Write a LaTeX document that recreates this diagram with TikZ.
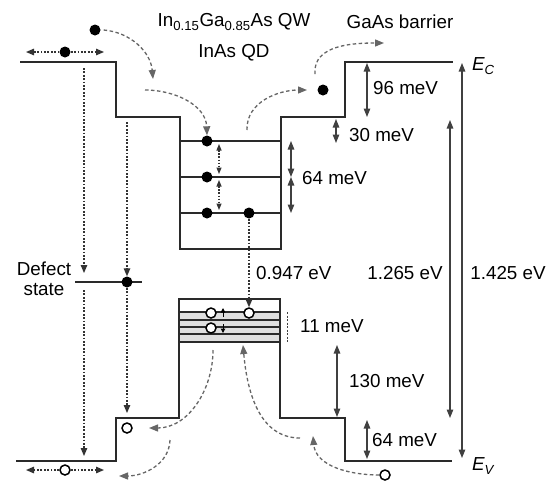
\documentclass[tikz,border=0pt]{standalone}
\usepackage{fontspec}
\setmainfont{Liberation Sans}
\usetikzlibrary{arrows.meta}
\definecolor{bandc}{HTML}{2A2A2A}
\definecolor{measc}{HTML}{404040}
\definecolor{curvc}{HTML}{666666}
\definecolor{dotc}{HTML}{333333}
\begin{document}
\begin{tikzpicture}[x=1pt,y=-1pt,
  band/.style={draw=bandc,line width=2pt},
  lvl/.style={draw=bandc,line width=1.6pt},
  meas/.style={draw=measc,line width=1.2pt,{Triangle[length=8.5pt,width=6.5pt]}-{Triangle[length=8.5pt,width=6.5pt]}},
  dcurve/.style={draw=curvc,line width=1.3pt,dash pattern=on 3.5pt off 2.5pt,-{Triangle[length=9pt,width=7pt]}},
  dline/.style={draw=dotc,line width=1.3pt,dash pattern=on 1.8pt off 1.6pt,-{Triangle[length=8pt,width=6.5pt]}},
  dline2/.style={draw=dotc,line width=1.1pt,dash pattern=on 1.6pt off 1.5pt,{Triangle[length=6.5pt,width=5pt]}-{Triangle[length=6.5pt,width=5pt]}},
  el/.style={circle,fill=black,inner sep=0pt,minimum size=11pt},
  ho/.style={circle,draw=black,line width=1.5pt,fill=white,inner sep=0pt,minimum size=10pt},
  lab/.style={inner sep=0pt,font=\fontsize{18.8}{22}\selectfont}]
\useasboundingbox[fill=white] (0,0) rectangle (553,482);

% ---- valence band QD gray region
\fill[gray!25] (179,312) rectangle (280,342);
\foreach \yy in {312,320,327,334,342} \draw[lvl] (179,\yy) -- (280,\yy);

% ---- conduction band
\draw[band] (20,62) -- (116,62) -- (116,117) -- (180,117) -- (180,249) -- (281,249) -- (281,117) -- (345,117) -- (345,62) -- (453,62);
\foreach \yy in {141,177,213} \draw[lvl] (180,\yy) -- (281,\yy);

% ---- valence band
\draw[band] (16,461) -- (116,461) -- (116,418) -- (179,418) -- (179,299) -- (280,299) -- (280,418) -- (345,418) -- (345,461) -- (452,461);

% ---- defect state
\draw[lvl] (75,282) -- (142,282);

% ---- electrons
\node[el] (etl) at (65,52) {};
\node[el] (etop) at (95,30) {};
\node[el] (er) at (323,90) {};
\node[el] (e11) at (207,141) {};
\node[el] (e21) at (207,177) {};
\node[el] (e31) at (207,213) {};
\node[el] (e32) at (249,213) {};
\node[el] (ed) at (127,282) {};

% ---- holes
\node[ho] (h11) at (211,313) {};
\node[ho] (h12) at (249,313) {};
\node[ho] (h21) at (211,328) {};
\node[ho] (hq) at (127,428) {};
\node[ho] (hb) at (65,470) {};
\node[ho] (hr) at (385,475) {};

% ---- coordinates
\coordinate (tlL) at (26,52);  \coordinate (tlR) at (104,52);
\coordinate (bL) at (26,470);  \coordinate (bR) at (104,470);
\coordinate (c1) at (153,79);
\coordinate (c2s) at (145,90);
\coordinate (c3s) at (247,130); \coordinate (c3e) at (307,90);
\coordinate (c4e) at (384,43);
\coordinate (v1s) at (213,350); \coordinate (v1e) at (149,428);
\coordinate (v2s) at (170,440); \coordinate (v2e) at (119,476);
\coordinate (v3e) at (313,436);
\coordinate (v4s) at (300,438); \coordinate (v4e) at (243,345);

% ---- dotted lines
\draw[dline] (etl) -- (tlL);
\draw[dline] (etl) -- (tlR);
\draw[dline] (hb) -- (bL);
\draw[dline] (hb) -- (bR);
\draw[dline] (84,68) -- (84,273);
\draw[dline] (84,290) -- (84,456);
\draw[dline] (127,122) -- (ed);
\draw[dline] (ed) -- (127,413);
\draw[dline] (e32) -- (h12);
\draw[dline2] (219,144) -- (219,174);
\draw[dline2] (219,180) -- (219,210);

% ---- small spin arrows
\draw[draw=black,line width=1pt,-{Triangle[length=4.5pt,width=4.5pt]}] (223,317) -- (223,308);
\draw[draw=black,line width=1pt,-{Triangle[length=4.5pt,width=4.5pt]}] (223,324) -- (223,333);

% ---- dashed curves
\draw[dcurve] (etop.east) ++(3,0) to[out=-5,in=95] (c1);
\draw[dcurve] (c2s) to[out=0,in=92] (e11.north);
\draw[dcurve] (c3s) to[out=92,in=180] (c3e);
\draw[dcurve] ([shift={(-8,-16)}]er.center) to[out=95,in=180] (c4e);
\draw[dcurve] (v1s) to[out=-90,in=0] (v1e);
\draw[dcurve] (v2s) to[out=-92,in=0] (v2e);
\draw[dcurve] (hr.west) to[out=180,in=-85] (v3e);
\draw[dcurve] (v4s) to[out=180,in=-85] (v4e);

% ---- measurement arrows
\draw[meas] (367,63) -- (367,117);
\draw[meas] (336,119) -- (336,143);
\draw[meas] (291,141) -- (291,177);
\draw[meas] (291,177) -- (291,213);
\draw[meas] (337,345) -- (337,417);
\draw[meas] (367,420) -- (367,459);
\draw[meas] (450,120) -- (450,418);
\draw[meas] (462,63) -- (462,458);
\draw[draw=measc,line width=1pt,dash pattern=on 2pt off 1.5pt] (287,312) -- (287,343);

% ---- labels
\node[lab] (tQW) at (234,22) {In\textsubscript{0.15}Ga\textsubscript{0.85}As QW};
\node[lab] (tQD) at (234,53) {InAs QD};
\node[lab] (tGa) at (400,22) {GaAs barrier};
\node[lab,anchor=west] (t96) at (373,88) {96 meV};
\node[lab,anchor=west] (t30) at (349,135) {30 meV};
\node[lab,anchor=west] (t64) at (302,178) {64 meV};
\node[lab,anchor=west] (t947) at (256,273) {0.947 eV};
\node[lab] (t1265) at (405,273) {1.265 eV};
\node[lab] (t1425) at (508,273) {1.425 eV};
\node[lab,anchor=west] (t11) at (300,326) {11 meV};
\node[lab,anchor=west] (t130) at (349,381) {130 meV};
\node[lab,anchor=west] (t64v) at (372,440) {64 meV};
\node[lab,anchor=west] (tEc) at (472,66) {\itshape E\textsubscript{C}};
\node[lab,anchor=west] (tEv) at (472,466) {\itshape E\textsubscript{V}};
\node[lab,align=center,font=\fontsize{18.8}{20}\selectfont] (tdef) at (44,279) {Defect\\state};
\end{tikzpicture}
\end{document}
